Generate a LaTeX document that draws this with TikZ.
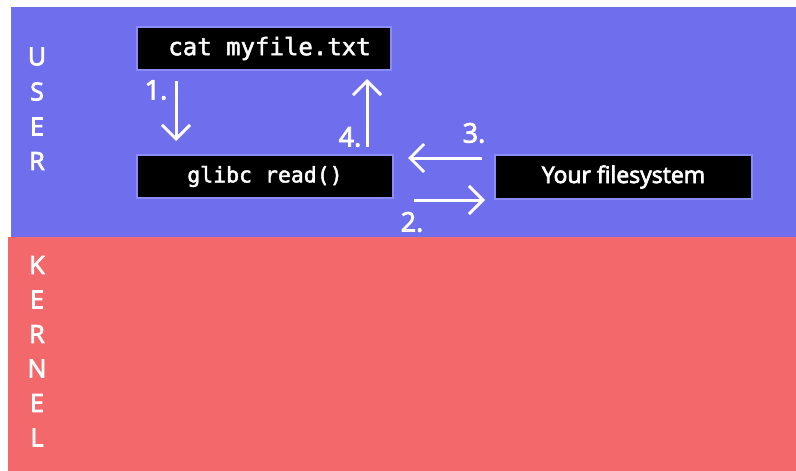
\documentclass[tikz,border=0pt]{standalone}
\usepackage{fontspec}
\setmainfont{Open Sans}[FakeBold=3]
\setmonofont{DejaVu Sans Mono}[FakeBold=2]
\usetikzlibrary{arrows.meta}
\definecolor{userbg}{HTML}{6F6FEE}
\definecolor{kernelbg}{HTML}{F2686B}
\definecolor{boxedge}{HTML}{8C8CF7}
\tikzset{
  box/.style={fill=black, draw=boxedge, line width=2pt, text=white, inner sep=0pt},
  arr/.style={draw=white, line width=3pt, -{Straight Barb[length=14pt,width=28pt,line width=3pt]}},
  num/.style={text=white, font=\fontsize{27}{29}\selectfont},
  letter/.style={text=white, font=\fontsize{25}{27}\selectfont},
}
\begin{document}
\begin{tikzpicture}[x=1pt,y=-1pt]
\useasboundingbox (0,0) rectangle (796,471);
\fill[white] (0,0) rectangle (796,471);
\fill[userbg] (11,7) rectangle (796,237);
\fill[kernelbg] (8,237) rectangle (796,471);

\node[box, minimum width=254, minimum height=43] (cat) at (264,48.5)
  {\fontsize{24}{26}\selectfont\ttfamily\hspace*{11pt}cat myfile.txt};
\node[box, minimum width=256, minimum height=43] (glibc) at (265,176.5)
  {\fontsize{21.5}{24}\selectfont\ttfamily glibc read()};
\node[box, minimum width=257, minimum height=44] (fs) at (623.5,177)
  {\fontsize{23}{25}\selectfont Your filesystem};

\draw[arr] ([shift={(40,10)}]cat.south west) -- ([shift={(40,-13)}]glibc.north west);
\draw[arr] ([shift={(231,-7)}]glibc.north west) -- ([shift={(231,8)}]cat.south west);
\draw[arr] ([shift={(-12,4)}]fs.north west) -- ([shift={(14,4)}]glibc.north east);
\draw[arr] ([shift={(20,1)}]glibc.south east) -- ([shift={(-9,0)}]fs.south west);

\node[num] (n1) at (156,90) {1.};
\node[num] (n4) at (350,137) {4.};
\node[num] (n3) at (474,133) {3.};
\node[num] (n2) at (412,222) {2.};

\node[letter] (u1) at (37,56.5) {U};
\node[letter] (u2) at (37,91.5) {S};
\node[letter] (u3) at (37,126.5) {E};
\node[letter] (u4) at (37,161) {R};

\node[letter] (k1) at (37,265) {K};
\node[letter] (k2) at (37,299.5) {E};
\node[letter] (k3) at (37,334) {R};
\node[letter] (k4) at (37,368.5) {N};
\node[letter] (k5) at (37,403) {E};
\node[letter] (k6) at (37,437.5) {L};
\end{tikzpicture}
\end{document}
